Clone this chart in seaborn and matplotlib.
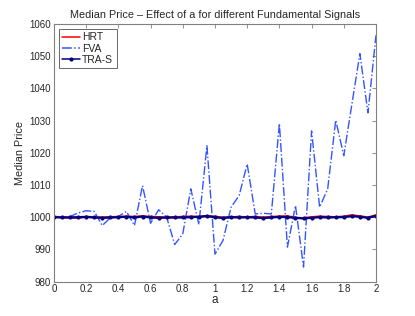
import numpy as np
import pandas as pd
import matplotlib
matplotlib.use("Agg")
import matplotlib.pyplot as plt
import seaborn as sns

# a grid, step 0.05
a_vals = [round(0.05 * i, 2) for i in range(41)]

fva = [1000.0, 1000.0, 1000.2, 1001.3, 1002.0, 1001.8, 997.4, 999.8, 1000.2, 1001.8,
       997.4, 1009.8, 998.1, 1002.3, 1000.0, 991.5, 994.8, 1008.8, 997.7, 1022.2,
       988.5, 992.8, 1003.1, 1006.7, 1016.5, 1001.0, 1001.2, 1001.0, 1029.1, 990.7,
       1003.6, 984.5, 1026.8, 1003.1, 1008.8, 1030.1, 1019.1, 1035.0, 1050.8, 1032.4,
       1056.5]

hrt = [1000.1, 1000.0, 999.9, 999.8, 1000.1, 1000.0, 999.9, 1000.0, 1000.1, 1000.2,
       1000.1, 1000.3, 1000.1, 1000.0, 999.9, 1000.0, 1000.1, 1000.2, 1000.1, 1000.3,
       1000.2, 999.8, 1000.0, 1000.1, 1000.0, 1000.1, 999.9, 1000.1, 1000.2, 1000.3,
       999.8, 999.7, 1000.0, 1000.2, 1000.1, 1000.0, 1000.2, 1000.6, 1000.3, 999.9,
       1000.6]

tras = [1000.0, 999.9, 999.9, 1000.0, 1000.1, 999.9, 999.8, 999.9, 1000.0, 1000.1,
        999.9, 1000.2, 999.9, 999.8, 999.9, 999.9, 999.9, 1000.0, 1000.1, 1000.4,
        999.9, 999.8, 1000.0, 999.9, 1000.0, 999.9, 999.7, 999.9, 1000.1, 1000.0,
        999.8, 999.6, 999.8, 1000.0, 999.9, 1000.0, 1000.0, 1000.3, 1000.1, 999.8,
        1000.4]

df = pd.DataFrame({"a": a_vals, "HRT": hrt, "FVA": fva, "TRA-S": tras})

sns.set_style("white")
plt.rcParams["font.family"] = ["Liberation Sans", "DejaVu Sans"]

fig = plt.figure(figsize=(4.15, 3.16), dpi=100)
ax = fig.add_axes([0.13, 0.109, 0.776, 0.815])

sns.lineplot(data=df, x="a", y="HRT", ax=ax, color="#ff0000", linewidth=1.6, label="HRT")
sns.lineplot(data=df, x="a", y="FVA", ax=ax, color="#3355ff", linewidth=1.0,
             linestyle="-.", label="FVA")
sns.lineplot(data=df, x="a", y="TRA-S", ax=ax, color="#000080", linewidth=1.6,
             marker="o", markersize=3, markeredgewidth=0, label="TRA-S")

ax.set_xlim(0, 2)
ax.set_ylim(980, 1060)
ax.set_xticks(np.arange(0, 2.01, 0.2))
ax.set_xticklabels(["0", "0.2", "0.4", "0.6", "0.8", "1", "1.2", "1.4", "1.6", "1.8", "2"])
ax.set_yticks(np.arange(980, 1061, 10))
ax.tick_params(direction="in", length=3, width=0.6, labelsize=7, color="#808080",
               top=True, right=True, pad=2)
for s in ax.spines.values():
    s.set_color("#808080")
    s.set_linewidth(0.8)

ax.set_xlabel("a", fontsize=8.5, labelpad=0)
ax.set_ylabel("Median Price", fontsize=7.8, labelpad=3)
ax.set_title("Median Price \u2013 Effect of a for different Fundamental Signals", fontsize=7.8, pad=4)

leg = ax.legend(loc="upper left", fontsize=7.5, frameon=True, fancybox=False,
                handlelength=1.7, borderpad=0.35, labelspacing=0.12, handletextpad=0.2,
                borderaxespad=0.45)
leg.get_frame().set_edgecolor("#404040")
leg.get_frame().set_linewidth(0.7)
for h in leg.get_lines():
    h.set_linewidth(1.1)

fig.savefig("out.png", dpi=100)
